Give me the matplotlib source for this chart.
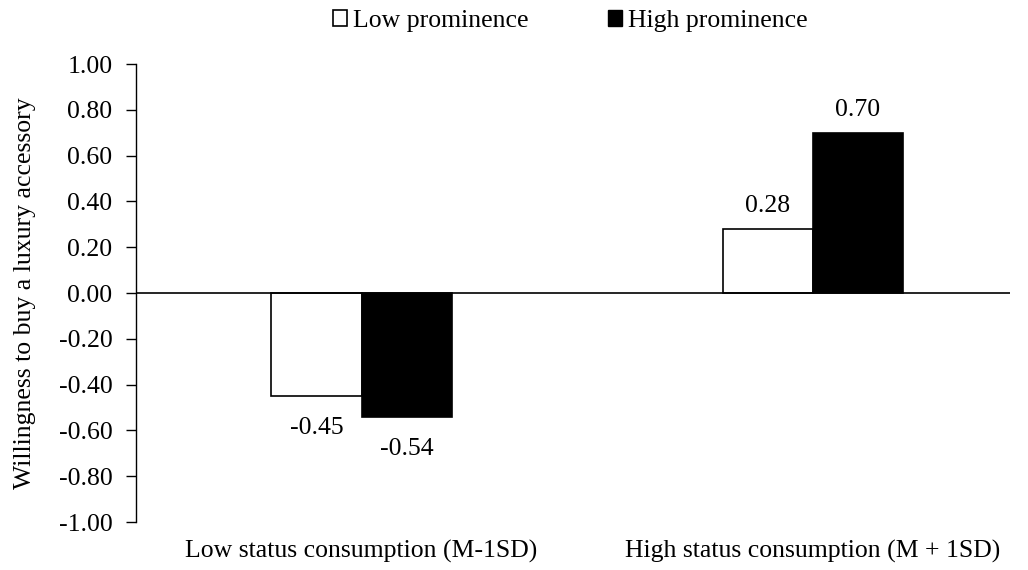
import matplotlib

matplotlib.use("Agg")

import matplotlib.pyplot as plt
import numpy as np
from matplotlib.patches import Patch

CATEGORIES = ["Low status consumption (M-1SD)", "High status consumption (M + 1SD)"]
SERIES_NAMES = ["Low prominence", "High prominence"]
LOW_PROMINENCE = [-0.45, 0.28]
HIGH_PROMINENCE = [-0.54, 0.70]
Y_TICKS = [-1.0, -0.8, -0.6, -0.4, -0.2, 0.0, 0.2, 0.4, 0.6, 0.8, 1.0]

FONT_SIZE = 18.5

plt.rcParams["font.family"] = ["Liberation Serif", "DejaVu Serif"]

fig = plt.figure(figsize=(10.28, 5.70), dpi=100)
ax = fig.add_axes((0.1323, 0.0842, 0.8502, 0.8035))

x = np.arange(len(CATEGORIES))
width = 0.2
bars_low = ax.bar(x - width / 2, LOW_PROMINENCE, width, color="white", edgecolor="black", linewidth=1.2)
bars_high = ax.bar(x + width / 2, HIGH_PROMINENCE, width, color="black", edgecolor="black", linewidth=1.2)

for bars, values in ((bars_low, LOW_PROMINENCE), (bars_high, HIGH_PROMINENCE)):
    for bar, value in zip(bars, values):
        cx = bar.get_x() + bar.get_width() / 2
        if value >= 0:
            ax.annotate(f"{value:.2f}", (cx, value), xytext=(0, 12), textcoords="offset points",
                        ha="center", va="baseline", fontsize=FONT_SIZE)
        else:
            ax.annotate(f"{value:.2f}", (cx, value), xytext=(0, -15), textcoords="offset points",
                        ha="center", va="top", fontsize=FONT_SIZE)

ax.axhline(0, color="black", linewidth=1.2)
ax.set_xlim(-0.5, 1.437)
ax.set_ylim(-1.0, 1.0)
ax.set_yticks(Y_TICKS)
ax.set_yticklabels([f"{t:.2f}" for t in Y_TICKS], fontsize=FONT_SIZE)
ax.set_xticks(x)
ax.set_xticklabels(CATEGORIES, fontsize=FONT_SIZE)
ax.tick_params(axis="x", length=0, pad=13)
ax.tick_params(axis="y", direction="out", length=7, width=1.0, pad=10)
for side in ("top", "right", "bottom"):
    ax.spines[side].set_visible(False)
ax.spines["left"].set_linewidth(1.0)
ax.set_ylabel("Willingness to buy a luxury accessory", fontsize=FONT_SIZE, labelpad=16)

handles = [Patch(facecolor="white", edgecolor="black", linewidth=1.2),
           Patch(facecolor="black", edgecolor="black")]
fig.legend(handles, SERIES_NAMES, loc="center", bbox_to_anchor=(0.5545, 0.963), ncol=2, frameon=False,
           fontsize=FONT_SIZE, handlelength=0.55, handleheight=0.55, handletextpad=0.22,
           columnspacing=3.1)

fig.savefig("out.png", dpi=100, facecolor="white")
plt.close(fig)
